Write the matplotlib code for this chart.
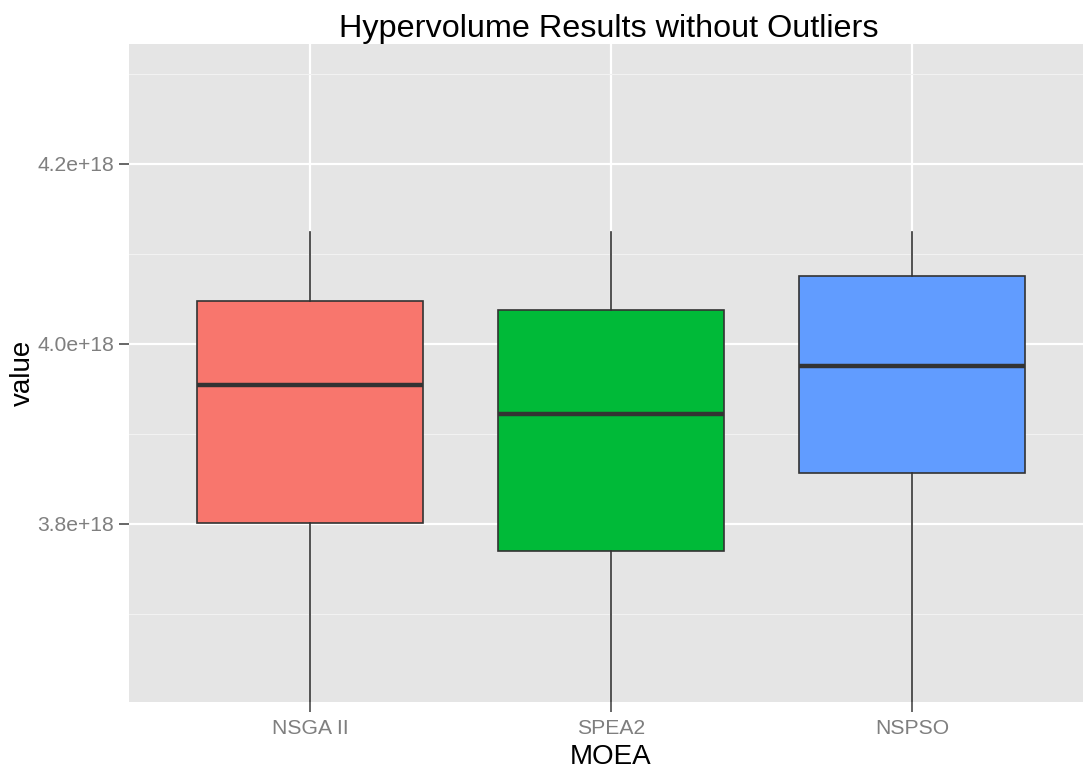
import matplotlib
matplotlib.use("Agg")
import matplotlib.pyplot as plt
from matplotlib.ticker import FixedLocator, FuncFormatter

plt.rcParams['font.family'] = ['Liberation Sans', 'DejaVu Sans']

# data (units of 1e18)
algorithms = ["NSGA II", "SPEA2", "NSPSO"]
whisker_low = [3.55, 3.55, 3.55]
q1 = [3.801, 3.770, 3.856]
median = [3.954, 3.922, 3.975]
q3 = [4.048, 4.038, 4.075]
whisker_high = [4.124, 4.124, 4.124]
fills = ["#F8766D", "#00BA38", "#619CFF"]

scale = 1e18
stats = []
for i, name in enumerate(algorithms):
    stats.append({
        "label": name,
        "whislo": whisker_low[i] * scale,
        "q1": q1[i] * scale,
        "med": median[i] * scale,
        "q3": q3[i] * scale,
        "whishi": whisker_high[i] * scale,
        "fliers": [],
    })

fig = plt.figure(figsize=(10.83, 7.7), dpi=100)
ax = fig.add_axes([0.1195, 0.0883, 0.8894, 0.8546])
ax.set_facecolor("#E5E5E5")
for s in ax.spines.values():
    s.set_visible(False)

bp = ax.bxp(stats, positions=[1, 2, 3], widths=0.75, patch_artist=True,
            showcaps=False, showfliers=False,
            boxprops=dict(edgecolor="#333333", linewidth=1.2),
            whiskerprops=dict(color="#333333", linewidth=1.2),
            medianprops=dict(color="#333333", linewidth=3.2, solid_capstyle="butt"),
            zorder=3)
for patch, c in zip(bp["boxes"], fills):
    patch.set_facecolor(c)

ax.set_xlim(0.4, 3.6)
ax.set_ylim(3.602 * scale, 4.333 * scale)

major_y = [3.8, 4.0, 4.2]
minor_y = [3.7, 3.9, 4.1, 4.3]
ax.yaxis.set_major_locator(FixedLocator([v * scale for v in major_y]))
ax.yaxis.set_minor_locator(FixedLocator([v * scale for v in minor_y]))
ax.yaxis.set_major_formatter(FuncFormatter(lambda v, p: f"{v:.1e}"))
ax.yaxis.get_offset_text().set_visible(False)
ax.set_xticks([1, 2, 3])
ax.set_xticklabels(algorithms)

ax.grid(which="major", color="white", linewidth=1.6, zorder=0)
ax.grid(which="minor", axis="y", color="#F2F2F2", linewidth=0.8, zorder=0)
ax.set_axisbelow(True)

ax.tick_params(axis="both", which="major", length=7, width=1.2, color="#4D4D4D",
               labelcolor="#7F7F7F", labelsize=15.2, pad=4)
ax.tick_params(axis="x", which="major", pad=5.5)
ax.tick_params(axis="y", which="minor", length=0)

ax.set_xlabel("MOEA", fontsize=20, labelpad=4)
ax.set_ylabel("value", fontsize=20, labelpad=1)
ax.set_title("Hypervolume Results without Outliers", fontsize=23.3, pad=5, x=0.498)

fig.savefig("out.png", dpi=100)
